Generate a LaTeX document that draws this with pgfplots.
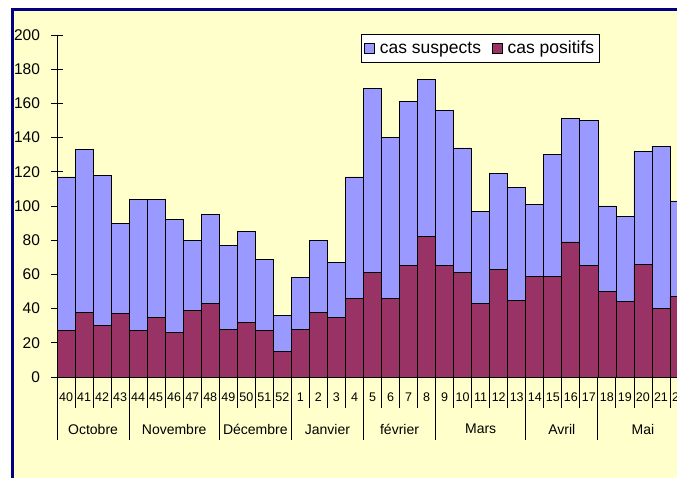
\documentclass[border=0pt]{standalone}
\usepackage{fontspec}
\setmainfont{Liberation Sans}
\usepackage{pgfplots}
\pgfplotsset{compat=1.18}
\definecolor{suspect}{HTML}{9999FF}
\definecolor{positif}{HTML}{993366}
\definecolor{fond}{HTML}{FFFFCC}
\definecolor{cadre}{HTML}{000080}

% semaines 40..52 puis 1..22, placees en 0..34
\pgfplotstableread{
x  semaine suspects positifs
0  40 117 27
1  41 133 38
2  42 118 30
3  43  90 37
4  44 104 27
5  45 104 35
6  46  92 26
7  47  80 39
8  48  95 43
9  49  77 28
10 50  85 32
11 51  69 27
12 52  36 15
13 1   58 28
14 2   80 38
15 3   67 35
16 4  117 46
17 5  169 61
18 6  140 46
19 7  161 65
20 8  174 82
21 9  156 65
22 10 134 61
23 11  97 43
24 12 119 63
25 13 111 45
26 14 101 59
27 15 130 59
28 16 151 79
29 17 150 65
30 18 100 50
31 19  94 44
32 20 132 66
33 21 135 40
34 22 103 47
}\donnees

\begin{document}
\begin{tikzpicture}[x=1pt,y=1pt]
\clip (0,0) rectangle (677,477);
\fill[white] (0,0) rectangle (677,477);
\fill[fond] (12.5,-10) rectangle (700,467.2);
\draw[cadre, line width=3pt] (12.5,-10) -- (12.5,467.2) -- (700,467.2);

\begin{axis}[
  at={(57pt,100pt)}, anchor=south west,
  scale only axis, width=631pt, height=342pt,
  xmin=-0.5, xmax=34.5, ymin=0, ymax=200,
  axis x line=bottom, axis y line=left,
  axis line style={-, black, line width=0.8pt},
  xtick=\empty,
  ytick={0,20,...,200},
  tick align=center, major tick length=11pt,
  ytick style={black, line width=0.8pt},
  /pgf/number format/assume math mode=true,
  yticklabel style={font=\fontsize{15.5}{18}\selectfont, xshift=-8pt},
  legend style={at={(0.4818,1.003)}, anchor=north west,
    draw=black, fill=white, line width=0.6pt,
    font=\fontsize{17.5}{19}\selectfont,
    legend columns=-1, inner xsep=3pt, inner ysep=5pt,
    /tikz/every odd column/.append style={column sep=3pt},
    /tikz/every even column/.append style={column sep=9pt}},
  legend cell align=left,
]
\addplot[ybar, bar width=1, bar shift=0pt, fill=suspect, draw=black, line width=0.7pt,
  legend image code/.code={\draw[fill=suspect, draw=black, line width=0.6pt] (0pt,-5pt) rectangle (10pt,5pt);}]
  table[x=x, y=suspects] {\donnees};
\addlegendentry{cas suspects}
\addplot[ybar, bar width=1, bar shift=0pt, fill=positif, draw=black, line width=0.7pt,
  legend image code/.code={\draw[fill=positif, draw=black, line width=0.6pt] (0pt,-5pt) rectangle (10pt,5pt);}]
  table[x=x, y=positifs] {\donnees};
\addlegendentry{cas positifs}
\end{axis}

% axe des semaines et des mois
\begin{axis}[
  at={(57pt,100pt)}, anchor=south west,
  scale only axis, width=631pt, height=342pt,
  xmin=-0.5, xmax=34.5, ymin=0, ymax=200,
  axis x line=bottom, axis y line=none,
  axis line style={-, draw=none},
  tick align=outside,
  xtick={0,...,34},
  xticklabels={40,41,42,43,44,45,46,47,48,49,50,51,52,1,2,3,4,5,6,7,8,9,10,11,12,13,14,15,16,17,18,19,20,21,22},
  major tick length=0pt,
  minor xtick={-0.5,0.5,...,34.5},
  minor tick length=31pt,
  minor x tick style={black, line width=0.8pt},
  extra x ticks={-0.5,3.5,8.5,12.5,16.5,20.5,25.5,29.5,34.5},
  extra x tick labels={},
  extra x tick style={major tick length=63pt, major x tick style={black, line width=0.8pt}},
  xticklabel style={font=\fontsize{12.5}{14}\selectfont, anchor=center, yshift=-20pt},
  clip=false,
]
\addplot[draw=none] coordinates {(0,0)};
\foreach \m/\pos in {Octobre/1.5, Novembre/6, Décembre/10.5, Janvier/14.5, février/18.5, Mars/23, Avril/27.5, Mai/32}{
  \edef\tmp{\noexpand\node[font=\noexpand\fontsize{14}{16}\noexpand\selectfont] at (axis cs:\pos,0) [yshift=-52pt] {\m};}
  \tmp
}
\end{axis}
\end{tikzpicture}
\end{document}
